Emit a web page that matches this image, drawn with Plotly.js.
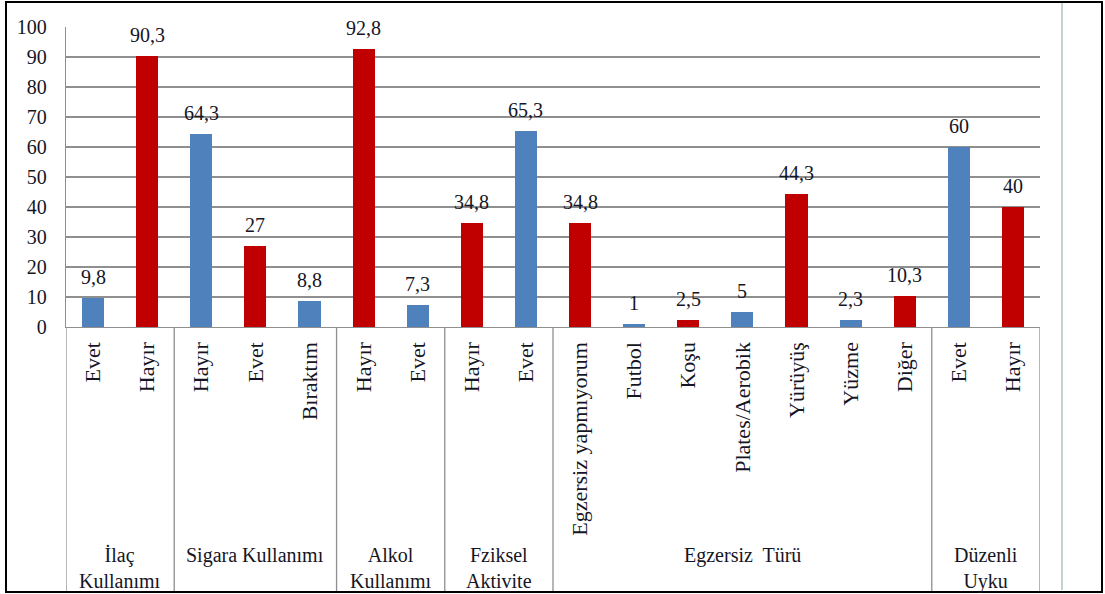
<!DOCTYPE html>
<html>
<head>
<meta charset="utf-8">
<script src="https://cdn.plot.ly/plotly-3.0.1.min.js"></script>
<style>
  html, body { margin: 0; padding: 0; background: #fff; }
  #chart { width: 1105px; height: 594px; }
</style>
</head>
<body>
<div id="chart"></div>
<script>
// ---- data ----
const categories = ["Evet", "Hayır", "Hayır", "Evet", "Bıraktım", "Hayır", "Evet", "Hayır", "Evet",
  "Egzersiz yapmıyorum", "Futbol", "Koşu", "Plates/Aerobik", "Yürüyüş", "Yüzme", "Diğer", "Evet", "Hayır"];
const values = [9.8, 90.3, 64.3, 27, 8.8, 92.8, 7.3, 34.8, 65.3, 34.8, 1, 2.5, 5, 44.3, 2.3, 10.3, 60, 40];
const barColorKeys = ["b", "r", "b", "r", "b", "r", "b", "r", "b", "r", "b", "r", "b", "r", "b", "r", "b", "r"];
const groupNames = ["İlaç<br>Kullanımı", "Sigara Kullanımı", "Alkol<br>Kullanımı", "Fziksel<br>Aktivite", "Egzersiz  Türü", "Düzenli<br>Uyku"];
const groupSizes = [2, 3, 2, 2, 7, 2];
const yTicks = [0, 10, 20, 30, 40, 50, 60, 70, 80, 90, 100];

// ---- style ----
const palette = { b: "#4F81BD", r: "#C00000" };
const FONT = "Liberation Serif";
const TXT = "#151525";
const GRID = "#8f8f8f";

const xs = categories.map((_, i) => i);
const trace = {
  type: "bar",
  x: xs,
  y: values,
  width: 0.41,
  marker: { color: barColorKeys.map(k => palette[k]) },
  hoverinfo: "skip"
};

// pixel helpers for paper coordinates (plot area: x 66..1040, y 27..327)
const L = 66, R = 1040, T = 27, B = 327;
const px = v => (v - L) / (R - L);
const py = v => (B - v) / (B - T);

const shapes = [];
const annotations = [];
let start = 0;
const bounds = [-0.5];
groupSizes.forEach((n, gi) => {
  const end = start + n;
  bounds.push(end - 0.5);
  annotations.push({
    xref: "x", yref: "paper",
    x: (start + end - 1) / 2, y: py(542),
    yanchor: "top", xanchor: "center",
    text: groupNames[gi], showarrow: false,
    font: { family: FONT, size: 20, color: TXT },
    align: "center"
  });
  start = end;
});
bounds.forEach(b => shapes.push({
  type: "line", xref: "x", yref: "paper",
  x0: b, x1: b, y0: 0, y1: py(591),
  line: { color: GRID, width: 1.3 }
}));

// value labels above bars
values.forEach((v, i) => annotations.push({
  xref: "x", yref: "y", x: i, y: v,
  text: String(v).replace(".", ","),
  showarrow: false, yanchor: "middle", yshift: 21,
  font: { family: FONT, size: 20, color: TXT }
}));

// light vertical line on the right and outer black frame
shapes.push({
  type: "line", xref: "paper", yref: "paper",
  x0: px(1062), x1: px(1062), y0: py(3), y1: py(590),
  line: { color: "#c3d3d3", width: 2 }
});
shapes.push({
  type: "rect", xref: "paper", yref: "paper",
  x0: px(6), x1: px(1102), y0: py(2), y1: py(592),
  line: { color: "#000", width: 2 }, fillcolor: "rgba(0,0,0,0)"
});

const layout = {
  width: 1105, height: 594,
  margin: { l: L, r: 1105 - R, t: T, b: 594 - B, pad: 0 },
  paper_bgcolor: "#fff", plot_bgcolor: "#fff",
  showlegend: false,
  bargap: 0,
  xaxis: {
    type: "linear", range: [-0.5, 17.5],
    tickmode: "array", tickvals: xs, ticktext: categories,
    tickangle: -90, ticks: "", showgrid: false, zeroline: false,
    showline: true, linecolor: GRID, linewidth: 1.3,
    ticklabelstandoff: 5,
    tickfont: { family: FONT, size: 22, color: TXT }
  },
  yaxis: {
    range: [0, 100], tickmode: "array", tickvals: yTicks,
    showgrid: true, gridcolor: GRID, gridwidth: 1.3,
    zeroline: false, showline: true, linecolor: GRID, linewidth: 1.3,
    ticks: "", ticklabelstandoff: 14,
    tickfont: { family: FONT, size: 20, color: TXT }
  },
  shapes: shapes,
  annotations: annotations
};

Plotly.newPlot("chart", [trace], layout, { displayModeBar: false, staticPlot: true });
</script>
</body>
</html>
